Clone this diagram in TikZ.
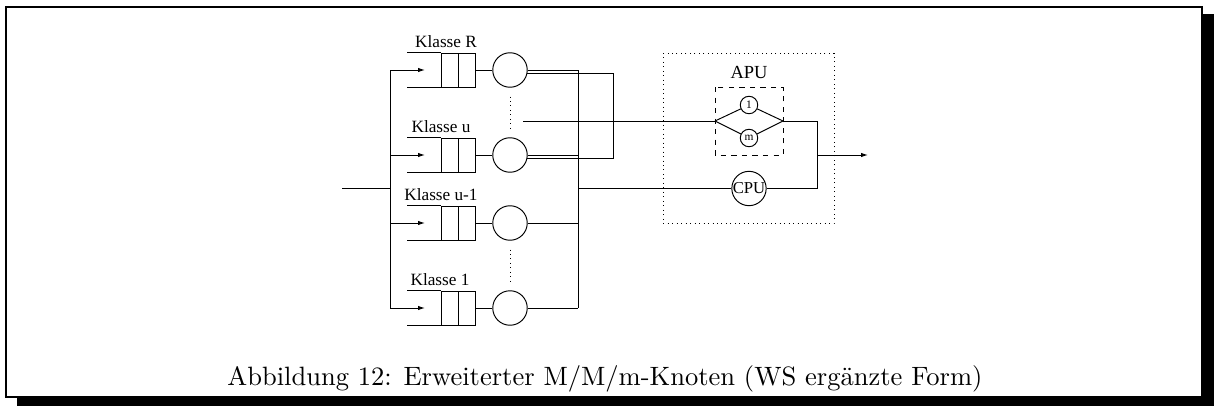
\documentclass[tikz,border=0pt]{standalone}
\usepackage{fontspec}
\newfontfamily\figfont{Liberation Serif}
\newfontfamily\capfont{lmroman10-regular.otf}
\usetikzlibrary{arrows.meta,calc}
\tikzset{
  >={Latex[length=1.4mm,width=0.9mm]},
  ln/.style={line width=0.55pt},
  srv/.style={circle,draw,ln,minimum size=0.69cm,inner sep=0pt},
  srvsm/.style={circle,draw,ln,minimum size=0.35cm,inner sep=0pt,
    font=\figfont\fontsize{6.5}{7}\selectfont},
  cpunode/.style={circle,draw,ln,minimum size=0.68cm,inner sep=0pt,
    font=\figfont\fontsize{9.5}{10}\selectfont},
  qcells/.style={draw,ln,minimum width=0.68cm,minimum height=0.68cm,inner sep=0pt,
    path picture={\draw[ln] (path picture bounding box.north)
      -- (path picture bounding box.south);}},
  qlbl/.style={font=\figfont\fontsize{9.8}{11}\selectfont,inner sep=0pt,anchor=base},
  flow/.style={ln},
  arr/.style={ln,->},
}
\begin{document}
\begin{tikzpicture}[x=0.02cm,y=-0.02cm]
  \useasboundingbox (0,0) rectangle (1214,406);
  % frame with shadow
  \fill (1202,14) rectangle (1214,406);
  \fill (17,397) rectangle (1214,406);
  \draw[line width=1.2pt] (6,7) rectangle (1202,397);

  % busses
  \coordinate (in) at (342,188.5);
  \coordinate (lb) at (390,188.5);
  \coordinate (rb) at (578,188.5);
  \coordinate (rt) at (613,121);
  \coordinate (apuin) at (523,121);

  % classes
  \foreach \nm/\yy/\lx/\txt in {R/70/446/Klasse R,u/155/441/Klasse u,
      v/223/441/Klasse u-1,a/308/440/Klasse 1}{
    \node[qcells] (q\nm) at (458,\yy) {};
    \draw[ln] (q\nm.north west) -- ++(-34,0);
    \draw[ln] (q\nm.south west) -- ++(-34,0);
    \node[qlbl] (l\nm) at ($(\lx,\yy)+(0,-22.5)$) {\txt};
    \node[srv] (s\nm) at (510,\yy) {};
    \draw[arr] (lb |- q\nm) -- (425,\yy);
    \draw[flow] (q\nm.east) -- (s\nm.west);
  }
  \draw[ln] (lb |- qR) -- (lb |- qa);
  \draw[ln] (rb |- sR) -- (rb |- sa);
  \draw[ln] (in) -- (lb);

  % server outputs
  \draw[flow] (sR.east) -- (rb |- sR.east);
  \draw[flow] (su.east) -- (rb |- su.east);
  \draw[flow] (sv.east) -- (rb |- sv.east);
  \draw[flow] (sa.east) -- (rb |- sa.east);
  \draw[flow] (sR.-12) -| (rt |- su.-12) -- (su.-12);
  \draw[dotted,ln,shorten <=5pt,shorten >=5pt] (sR.south) -- (su.north);
  \draw[dotted,ln,shorten <=5pt,shorten >=5pt] (sv.south) -- (sa.north);

  % APU / CPU block
  \draw[dotted,ln] (663,53) rectangle (834,223);
  \node[font=\figfont\fontsize{10.5}{12}\selectfont] (apu) at (749,72) {APU};
  \draw[dashed,ln] (715,87) rectangle (783,155);
  \coordinate (dl) at (715,121);
  \coordinate (dr) at (783,121);
  \coordinate (join) at (817,155);
  \coordinate (out) at (868,155);
  \node[srvsm] (p1) at (749,105) {1};
  \node[srvsm] (pm) at (749,138) {m};
  \draw[ln] (dl) -- (p1) -- (dr);
  \draw[ln] (dl) -- (pm) -- (dr);
  \node[cpunode] (cpu) at (749,188.5) {CPU};

  \draw[flow] (apuin) -- (dl);
  \draw[flow] (rb) -- (cpu);
  \draw[flow] (dr) -| (join |- cpu) -- (cpu);
  \draw[arr] (join) -- (out);

  % caption
  \node[font=\capfont\fontsize{15.1}{18}\selectfont,anchor=base] (cap) at (605,385)
    {Abbildung 12: Erweiterter M/M/m-Knoten (WS ergänzte Form)};
\end{tikzpicture}
\end{document}
